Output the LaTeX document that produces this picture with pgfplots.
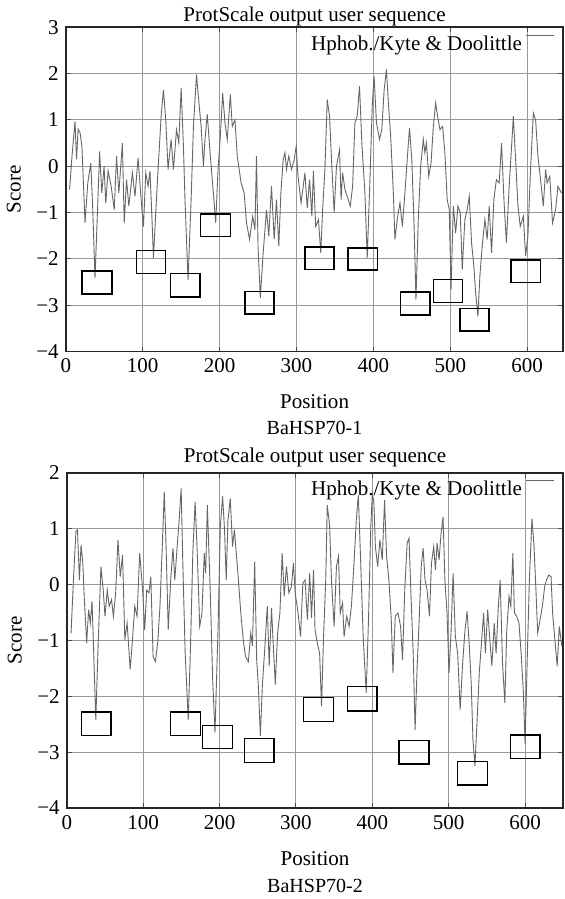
\documentclass[border=0pt]{standalone}
\usepackage{fontspec}
\setmainfont{Liberation Serif}
\usepackage{pgfplots}
\usepackage{pgfplotstable}
\pgfplotsset{compat=1.18}

% Kyte & Doolittle profiles (position, score)
\pgfplotstableread{
x y
5 -0.5
8 0.2
12 0.97
14 0.15
16 0.8
18.6 0.72
21 0.43
25 -1.22
28.6 -0.36
32.5 0.07
35 -0.9
38 -2.41
41.6 -0.8
44 0.32
46.8 -0.58
49.8 0
52 -0.8
55 -0.1
59 -0.43
63 -0.94
66 0.22
69 -0.58
73.6 0.5
76 -1.22
79 -0.29
82 -0.86
86.6 -0.14
90 -0.65
94 0.18
98 -0.72
101 -1.3
104 -0.14
107 -0.43
109.5 -0.1
112 -1.1
114 -1.98
117 -1.0
120 -0.07
124 1.08
127 1.65
130 1.0
133 -0.07
137 0.58
140 -0.07
144 0.79
147 0.5
150 1.69
153 0.43
155 -0.72
159 -2.45
163 -0.72
166 0.86
170 1.98
172 1.58
176 0.86
179 0
181 0.58
184 1.12
187 0.43
190.5 -0.29
195 -1.22
198 -0.07
201 0.65
204 1.58
207 0.94
210 0.58
214 1.55
216.5 0.86
220 1.0
223 0.22
228 -0.36
232 -0.58
235 -1.22
239 -1.58
243 -1.08
246 -1.37
248 0.22
250 -1.73
253 -2.84
256.7 -1.87
261 -0.94
264 -1.51
267.5 -0.43
271 -1.58
274 -0.72
277 -1.73
279.7 -0.58
282.7 0.14
285 0.29
287 -0.07
290 0.22
293.5 -0.07
297 0.14
299.6 0.43
302 -0.22
306 -0.79
309 -0.4
311 -0.14
314 -0.9
317 -0.29
320 -1.08
322 -0.1
325 -1.3
328.6 -1.15
331.6 -1.87
334 -0.94
337 -0.07
340 1.44
343 1.08
346 0
349 -1.0
352 0
356 0.36
358 -0.72
360 -0.14
363 -0.5
366 -0.65
370 -0.86
373 -0.43
376 0.94
379 1.08
382 1.73
385 0.5
389 -0.58
392 -1.98
395.7 -0.22
398.7 1.37
401 1.94
404 0.94
408 0.58
411 0.79
414 1.65
417 2.09
419.5 1.37
422.5 0.65
426 -0.58
428 -1.58
431.6 -1.08
434.6 -0.79
437.7 -1.3
441 -0.58
444 0.14
447 0.83
450 0.14
453 -1.3
455.4 -2.88
458.4 -1.15
461.5 0
465 0.58
467 0.29
469 0.5
472 -0.22
475 0.07
478 0.86
481 1.37
483.5 1.08
486.6 0.79
490 0.86
493 0.29
496 -0.72
498.7 -0.94
501 -2.66
504 -0.86
507 -1.44
510 -0.86
513 -1.0
515.6 -2.23
519 -1.15
522 -0.94
524.7 -0.65
527.7 -1.65
530.7 -2.16
533 -2.73
536 -3.24
538.5 -2.37
541.5 -1.73
545 -1.15
548 -1.58
550.6 -0.86
553.7 -1.87
556.7 -0.72
560 -0.29
563.6 -0.36
566.7 0.5
570 -0.79
573 -1.65
576.6 -0.43
580 0.5
582 1.08
585 0.14
588 -0.86
591 -1.3
595 -1.08
598 -1.94
601 -1.51
604 -0.22
608 1.15
611 1.0
614 0.22
617 -0.22
621 -0.86
624 -0.07
626 -0.36
629.4 -0.22
633 -1.22
637 -0.94
640 -0.43
644.6 -0.58
}\hspone

\pgfplotstableread{
x y
5.6 -0.87
8.7 0.08
12 0.95
14 0.98
16.5 0.08
18.7 0.71
21 0.38
23 -0.27
26 -1.05
28.6 -0.45
30.8 -0.69
33 -0.3
34.7 -0.99
38 -2.42
41 -1.1
44.7 0.32
47.7 -0.1
50 -0.57
53 -0.1
55.5 -0.39
58.6 -0.27
61 -0.57
64 -0.15
67 0.8
70 0.14
73 0.53
76 -0.99
79 -0.69
83 -1.52
86 -0.99
89 -0.39
92 -0.57
95.4 0.56
99 -0.04
102 -0.81
104.6 -0.1
107.6 -0.15
110 0.14
113 -1.29
116 -1.38
119 -1.05
122 -0.39
125 0.68
127.6 1.66
130 0.68
132.8 -0.81
136 0.08
139 0.65
141.4 0.08
144.5 0.68
147 1.13
149.7 1.72
152 0.32
155 -1.23
159 -2.42
162 -1.1
165 0.56
168 1.48
171 0.5
174 -0.75
177 -0.51
180 0.56
181.8 0.2
184 1.42
188 -0.21
191 -1.7
194 -2.65
198 -0.81
201 1.04
204 1.58
206.5 0.98
208.7 0.08
211 1.15
214 1.54
217 0.68
219.5 0.98
222.6 0.44
224.7 0.08
227.8 -0.51
231 -0.99
234 -1.29
237.7 -1.38
240.8 -0.87
243 -1.1
246 0.41
248.6 -1.35
250.8 -1.82
253.4 -2.71
256 -1.82
259.4 -1.1
262.5 -0.39
265 -1.46
268 -0.42
270 -0.99
273 -1.79
276 -0.87
279 -0.51
282 0.56
284.6 -0.21
287.6 0.32
290.7 -0.15
294 -0.04
296.7 0.38
299 -0.15
302.8 -0.51
306 -0.93
309 0.02
312 0.08
315 -0.63
318 0.2
320.4 -0.6
323 0.26
325 -0.81
328 -1.05
331 -1.23
333.5 -2.18
336 -0.99
339 0.08
341 1.42
344 1.07
346.5 0.08
350 -0.75
353 0.32
355.7 0.5
358 -0.51
361 -0.33
363 -0.93
366.5 -0.57
369.6 -0.75
372.6 -0.39
376 0.38
379 1.15
381.7 1.6
384.8 0.38
388 -0.93
392 -1.94
395 -0.63
398 1.04
400 1.63
402 1.48
404 0.68
407 0.32
410 0.8
413 0.44
416 1.51
418.7 0.5
421.7 0.08
424.8 -0.63
427 -1.58
430 -0.57
433.5 -0.51
437 -0.75
439.5 -1.35
442.6 -0.04
445.6 0.74
448 0.83
451 -0.33
453.5 -1.23
456 -2.6
458.7 -1.46
461 -0.75
464 0.32
466.5 0.65
469 0.08
471.7 -0.1
474.8 -0.57
477.4 0.38
480.4 0.68
482.6 0.26
484.8 0.74
487.4 0.44
490 0.92
492.6 1.21
495 0.08
497.8 -0.51
500.4 -1.58
503 -0.87
505.7 0.2
508.7 -0.93
511.7 -1.23
515 -2.24
518 -1.46
521 -0.87
524 -0.48
527 -1.1
529.6 -1.82
531.7 -2.77
534.3 -3.25
537 -2.48
540 -1.58
542.6 -1.1
545.7 -0.51
548 -1.23
551 -0.45
553.5 -0.93
556.5 -1.46
559.6 -0.69
562 -1.23
565 -0.39
567.4 0.08
570.4 -1.4
573.5 -2.12
576 -0.81
579 -0.21
581.3 -0.39
584 0.56
586 -0.51
589 -0.57
592 -0.69
594.8 -1.23
597.8 -1.94
600 -2.85
603 -1.23
605.6 0.08
609 1.18
611.7 0.68
614 -0.04
616.5 -0.87
619.6 -0.63
622.6 -0.39
625.6 -0.04
628 0.08
631 0.17
634 0.14
636 -0.51
639 -0.99
642 -1.46
644.8 -0.75
648 -1.1
}\hsptwo

\tikzset{hbox/.style={black, line width=0.7pt}}

\pgfplotsset{
  every axis title shift=0pt,
  protscale/.style={
    scale only axis,
    xmin=0,
    xtick={0,100,...,600},
    xlabel={Position},
    ylabel={Score},
    grid=major,
    major grid style={black!40, line width=0.5pt},
    axis line style={black!85, line width=0.9pt},
    tick align=inside, major tick length=2.5pt,
    tick style={black!70, line width=0.5pt},
    font=\fontsize{10.5}{12.6}\selectfont,
    ticklabel style={font=\fontsize{10.5}{12}\selectfont},
    /pgf/number format/assume math mode=true,
    every axis x label/.style={at={(rel axis cs:0.5,0)}, anchor=base, yshift=-28.5pt},
    every axis y label/.style={at={(rel axis cs:0,0.5)}, xshift=-26pt, rotate=90, anchor=center},
    legend style={draw=none, fill=none, at={(1,1)}, anchor=north east,
      xshift=-4pt, yshift=-2pt, inner sep=0pt, font=\fontsize{10.5}{12}\selectfont},
    legend plot pos=right,
    legend image code/.code={\draw[#1] (0pt,4.5pt) -- (14pt,4.5pt);},
  },
  curve/.style={black!60, line width=0.45pt},
}

\begin{document}
\begin{tikzpicture}
\begin{axis}[protscale, name=top,
  width=248.5pt, height=162pt,
  xmax=647, ymin=-4, ymax=3,
  ytick={-4,...,3}, yticklabels={−4,−3,−2,−1,0,1,2,3},
  title={ProtScale output user sequence},
  title style={at={(0.5,1)}, anchor=base, yshift=3pt},
]
\addplot[curve] table {\hspone};
\addlegendentry{Hphob./Kyte \& Doolittle}
\draw[hbox] (axis cs:21,-2.76) rectangle (axis cs:60,-2.26);
\draw[hbox] (axis cs:92,-2.31) rectangle (axis cs:130,-1.82);
\draw[hbox] (axis cs:136,-2.82) rectangle (axis cs:174.5,-2.32);
\draw[hbox] (axis cs:175,-1.52) rectangle (axis cs:214,-1.03);
\draw[hbox] (axis cs:233,-3.19) rectangle (axis cs:271,-2.70);
\draw[hbox] (axis cs:311,-2.23) rectangle (axis cs:349,-1.74);
\draw[hbox] (axis cs:367,-2.24) rectangle (axis cs:405,-1.76);
\draw[hbox] (axis cs:435.5,-3.21) rectangle (axis cs:473.5,-2.71);
\draw[hbox] (axis cs:478,-2.94) rectangle (axis cs:516,-2.45);
\draw[hbox] (axis cs:512.5,-3.56) rectangle (axis cs:550.5,-3.07);
\draw[hbox] (axis cs:579,-2.51) rectangle (axis cs:617,-2.02);
\end{axis}
\node[anchor=base, font=\fontsize{10}{12}\selectfont, yshift=-41.5pt] at (top.south) {BaHSP70-1};

\begin{axis}[protscale, name=bottom,
  at={(0.5pt,-60.5pt)}, anchor=north west,
  width=248pt, height=167.5pt,
  xmax=650, ymin=-4, ymax=2,
  ytick={-4,...,2}, yticklabels={−4,−3,−2,−1,0,1,2},
  title={ProtScale output user sequence},
  title style={at={(0.5,1)}, anchor=base, yshift=5pt},
]
\addplot[curve] table {\hsptwo};
\addlegendentry{Hphob./Kyte \& Doolittle}
\draw[hbox] (axis cs:19,-2.70) rectangle (axis cs:58,-2.28);
\draw[hbox] (axis cs:136,-2.70) rectangle (axis cs:175,-2.28);
\draw[hbox] (axis cs:178,-2.93) rectangle (axis cs:217,-2.52);
\draw[hbox] (axis cs:232.5,-3.18) rectangle (axis cs:271.5,-2.76);
\draw[hbox] (axis cs:310,-2.45) rectangle (axis cs:349,-2.02);
\draw[hbox] (axis cs:367.5,-2.26) rectangle (axis cs:406,-1.83);
\draw[hbox] (axis cs:435,-3.21) rectangle (axis cs:474,-2.79);
\draw[hbox] (axis cs:511.5,-3.59) rectangle (axis cs:551,-3.17);
\draw[hbox] (axis cs:580.5,-3.11) rectangle (axis cs:619.5,-2.69);
\end{axis}
\node[anchor=base, font=\fontsize{10}{12}\selectfont, yshift=-42pt] at (bottom.south) {BaHSP70-2};
\end{tikzpicture}
\end{document}
